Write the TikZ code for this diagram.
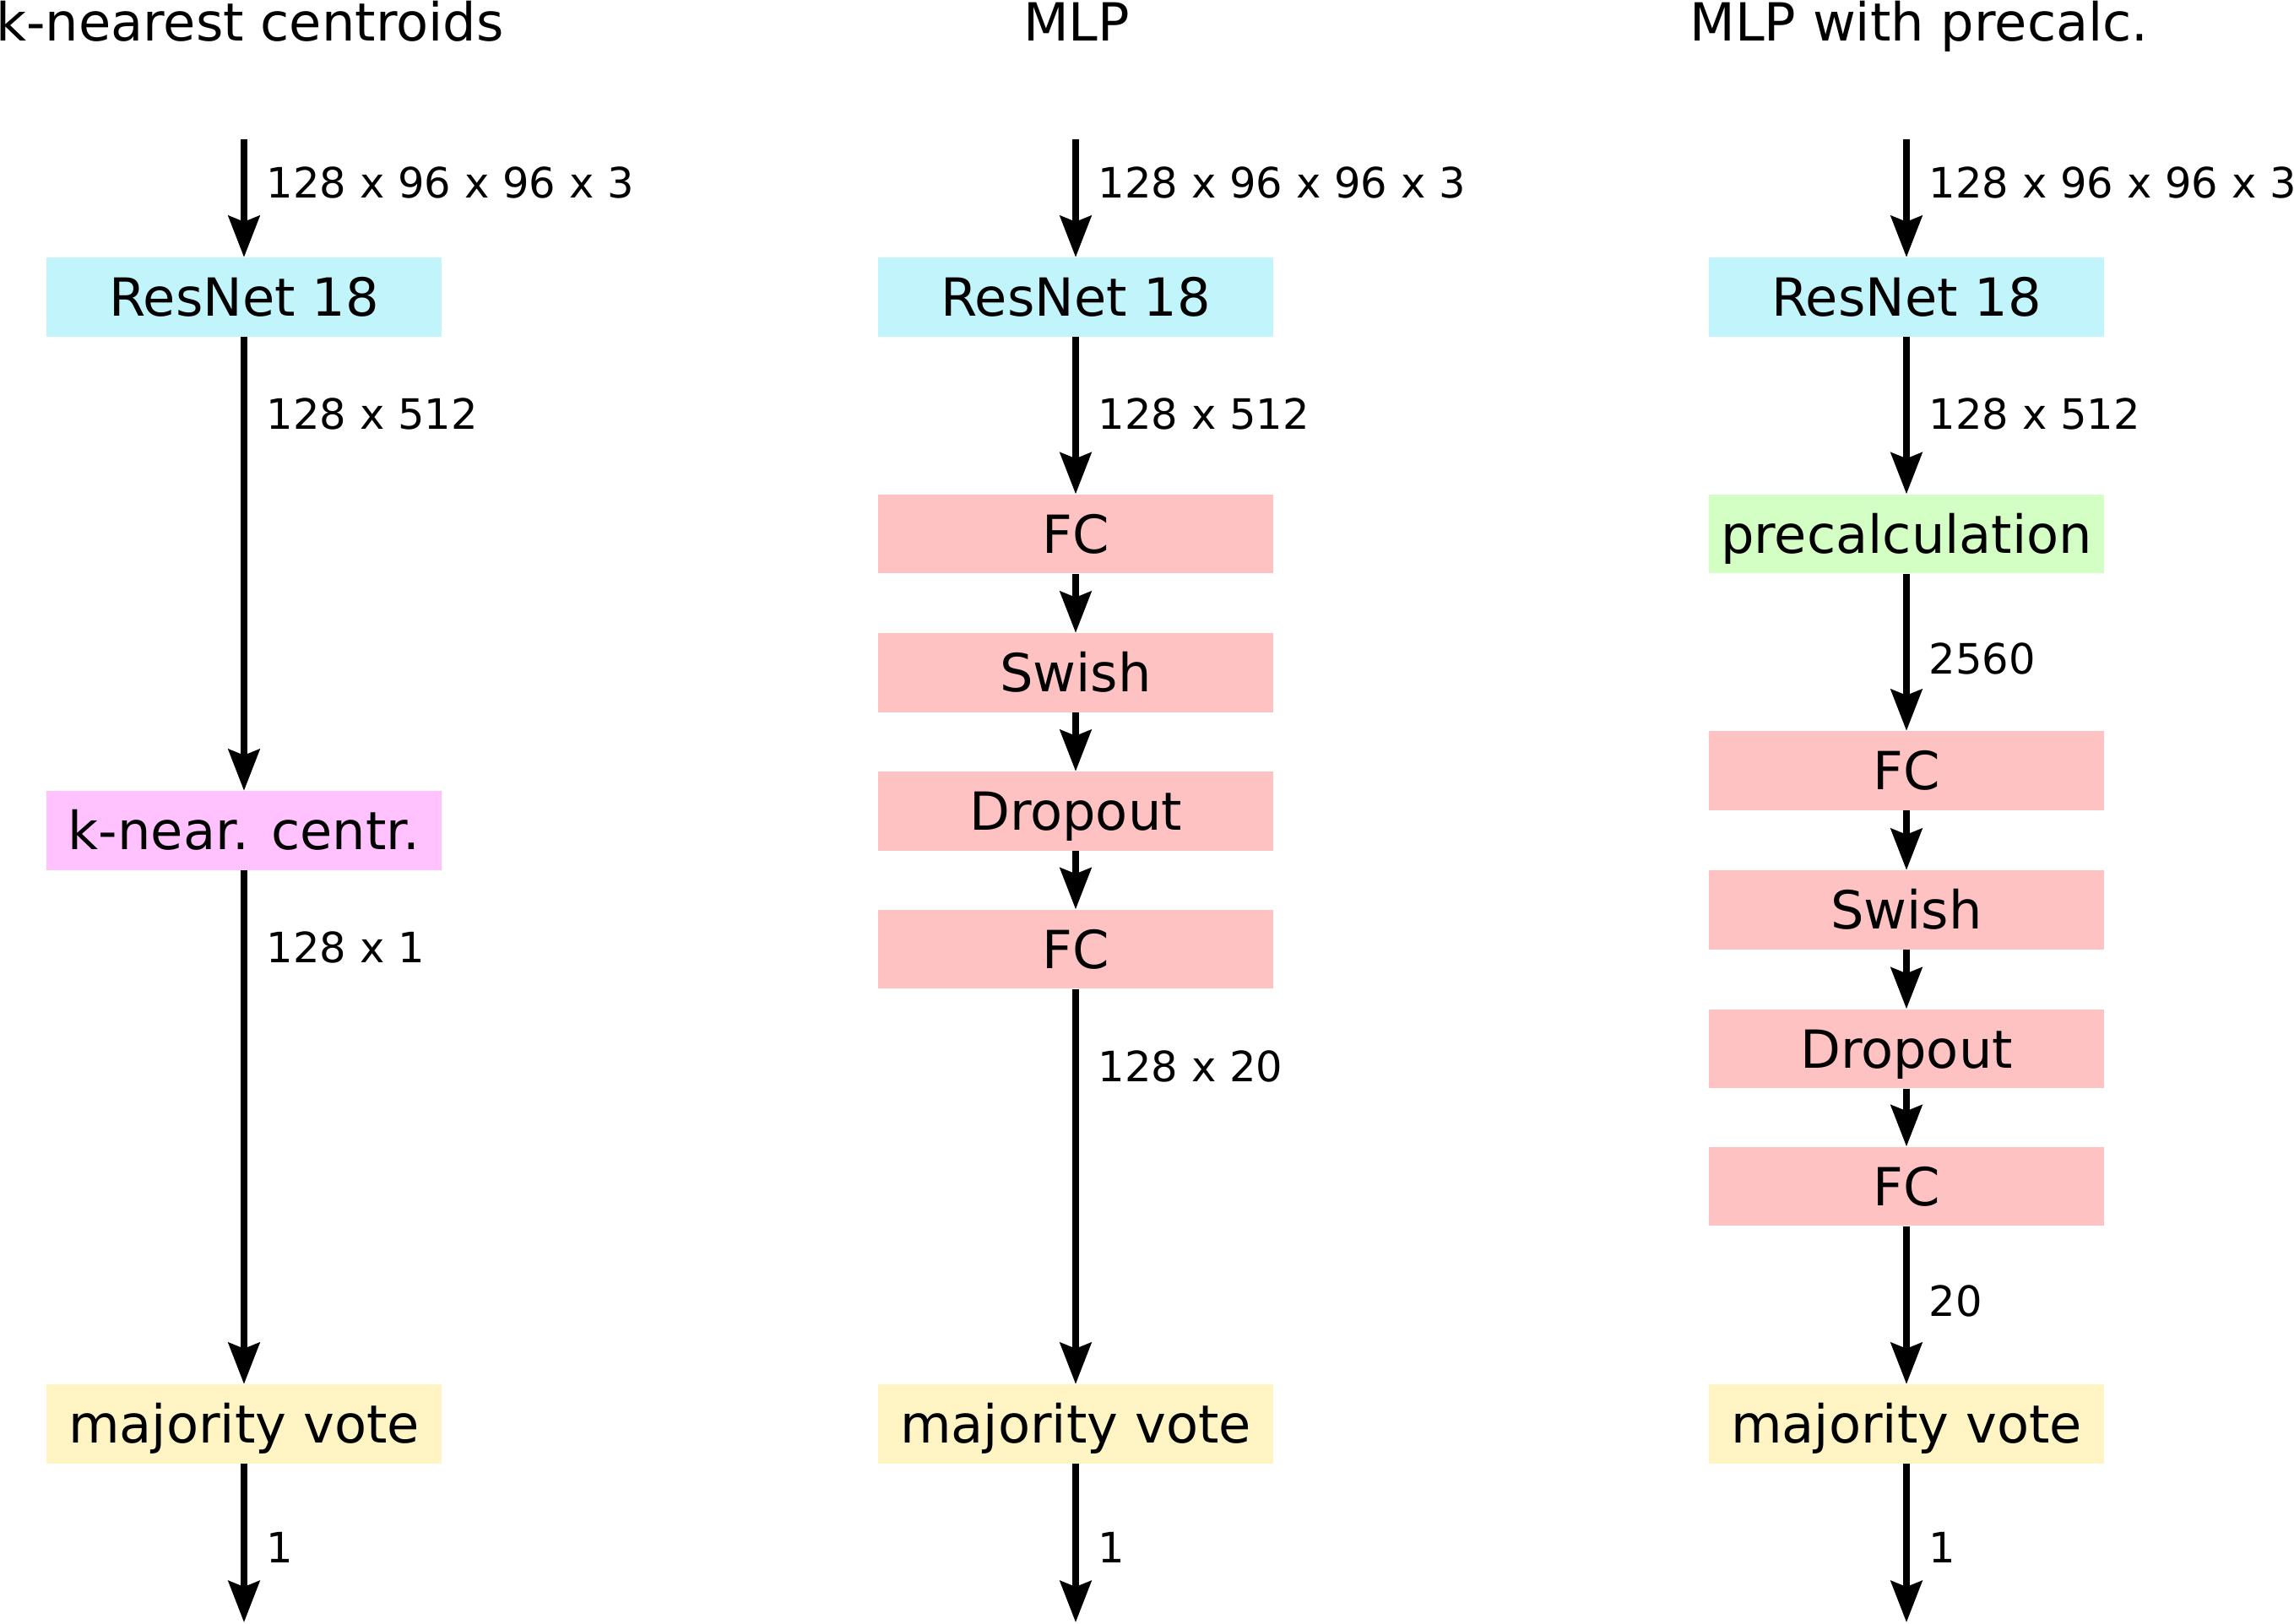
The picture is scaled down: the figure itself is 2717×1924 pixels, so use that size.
\documentclass[tikz,border=0pt]{standalone}
\usepackage{fontspec}
\setmainfont{DejaVu Sans}
\usetikzlibrary{arrows.meta}
\definecolor{cres}{RGB}{194,244,252}
\definecolor{cfc}{RGB}{255,194,194}
\definecolor{cknc}{RGB}{255,194,255}
\definecolor{cpre}{RGB}{212,255,196}
\definecolor{cmaj}{RGB}{255,245,196}
\tikzset{
  blk/.style={minimum width=4.68cm, minimum height=0.93cm, inner sep=0pt,
    text height=0.45cm, text depth=0cm, font=\fontsize{17.7}{21}\selectfont},
  arr/.style={line width=0.075cm, -{Stealth[length=0.49cm, width=0.37cm, inset=0.07cm]}},
  lbl/.style={anchor=west, inner sep=0pt, xshift=0.23cm, font=\fontsize{14.1}{17}\selectfont},
  ttl/.style={anchor=base, inner sep=0pt, font=\fontsize{17.7}{21}\selectfont}
}
\begin{document}
\begin{tikzpicture}[x=0.01cm, y=-0.01cm]
\useasboundingbox (0,0) rectangle (2717,1924);
% titles
\node[ttl] (t1) at (296,48) {k-nearest centroids};
\node[ttl] (t2) at (1275,48) {MLP};
\node[ttl] (t3) at (2273,48) {MLP with precalc.};
% column 1
\coordinate (s1) at (289,165);
\node[blk, fill=cres] (r1) at (289,352) {ResNet 18};
\node[blk, fill=cknc] (k1) at (289,984) {k-near. centr.};
\node[blk, fill=cmaj] (m1) at (289,1687) {majority vote};
\coordinate (e1) at (289,1922);
\draw[arr] (s1) -- node[lbl, pos=0.37] {128 x 96 x 96 x 3} (r1);
\draw[arr] (r1) -- node[lbl, pos=0.17] {128 x 512} (k1);
\draw[arr] (k1) -- node[lbl, pos=0.15] {128 x 1} (m1);
\draw[arr] (m1) -- node[lbl, pos=0.53] {1} (e1);
% column 2
\coordinate (s2) at (1274,165);
\node[blk, fill=cres] (r2) at (1274,352) {ResNet 18};
\node[blk, fill=cfc] (f2a) at (1274,632.5) {FC};
\node[blk, fill=cfc] (w2) at (1274,797) {Swish};
\node[blk, fill=cfc] (d2) at (1274,961) {Dropout};
\node[blk, fill=cfc] (f2b) at (1274,1124.5) {FC};
\node[blk, fill=cmaj] (m2) at (1274,1687) {majority vote};
\coordinate (e2) at (1274,1922);
\draw[arr] (s2) -- node[lbl, pos=0.37] {128 x 96 x 96 x 3} (r2);
\draw[arr] (r2) -- node[lbl, pos=0.49] {128 x 512} (f2a);
\draw[arr] (f2a) -- (w2);
\draw[arr] (w2) -- (d2);
\draw[arr] (d2) -- (f2b);
\draw[arr] (f2b) -- node[lbl, pos=0.196] {128 x 20} (m2);
\draw[arr] (m2) -- node[lbl, pos=0.53] {1} (e2);
% column 3
\coordinate (s3) at (2258,165);
\node[blk, fill=cres] (r3) at (2258,352) {ResNet 18};
\node[blk, fill=cpre] (p3) at (2258,632.5) {precalculation};
\node[blk, fill=cfc] (f3a) at (2258,913) {FC};
\node[blk, fill=cfc] (w3) at (2258,1078) {Swish};
\node[blk, fill=cfc] (d3) at (2258,1242.5) {Dropout};
\node[blk, fill=cfc] (f3b) at (2258,1405.5) {FC};
\node[blk, fill=cmaj] (m3) at (2258,1687) {majority vote};
\coordinate (e3) at (2258,1922);
\draw[arr] (s3) -- node[lbl, pos=0.37] {128 x 96 x 96 x 3} (r3);
\draw[arr] (r3) -- node[lbl, pos=0.49] {128 x 512} (p3);
\draw[arr] (p3) -- node[lbl, pos=0.54] {2560} (f3a);
\draw[arr] (f3a) -- (w3);
\draw[arr] (w3) -- (d3);
\draw[arr] (d3) -- (f3b);
\draw[arr] (f3b) -- node[lbl, pos=0.476] {20} (m3);
\draw[arr] (m3) -- node[lbl, pos=0.53] {1} (e3);
\end{tikzpicture}
\end{document}
